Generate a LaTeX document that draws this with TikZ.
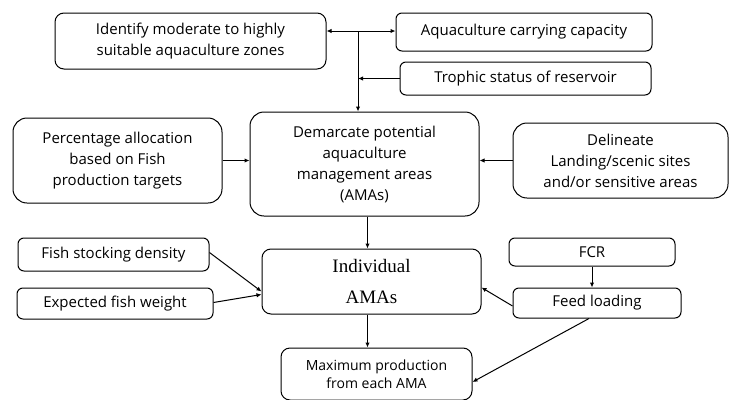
\documentclass[tikz,border=0pt]{standalone}
\usepackage{fontspec}
\setmainfont{Open Sans}
\newfontfamily\amafont{Liberation Serif}
\usetikzlibrary{arrows.meta}
\newcommand{\fs}{\fontsize{15}{21}\selectfont}

\begin{document}
\begin{tikzpicture}[x = 1pt, y = -1pt,
  box/.style = {draw, rounded corners = 9pt, line width = 1pt, align = center, inner sep = 0pt, font = \fs},
  small/.style = {box, rounded corners = 6pt},
  arr/.style = {line width = 1pt, -{Latex[length = 5pt, width = 4.5pt]}}]
\useasboundingbox (0,0) rectangle (731,399);

\node[box, minimum width = 271pt, minimum height = 56pt] (zones) at (190.5,41) {Identify moderate to highly\\suitable aquaculture zones};
\node[small, minimum width = 256pt, minimum height = 38pt] (capacity) at (524,32) {Aquaculture carrying capacity};
\node[small, minimum width = 251pt, minimum height = 33pt] (trophic) at (525.5,78.5) {Trophic status of reservoir};
\node[box, minimum width = 229pt, minimum height = 104pt, rounded corners = 14pt] (demarcate) at (364.5,164) {Demarcate potential\\aquaculture\\management areas\\(AMAs)};
\node[box, minimum width = 209pt, minimum height = 85pt, rounded corners = 14pt] (percent) at (117.5,160.5) {Percentage allocation\\based on Fish\\production targets};
\node[box, minimum width = 215pt, minimum height = 75pt, rounded corners = 14pt] (delineate) at (620.5,160.5) {Delineate\\Landing/scenic sites\\and/or sensitive areas};

\node[small, minimum width = 191pt, minimum height = 33pt] (stocking) at (113.5,254.5) {Fish stocking density};
\node[small, minimum width = 196pt, minimum height = 31pt] (weight) at (115,303.5) {Expected fish weight};
\node[box, minimum width = 219pt, minimum height = 65pt, font = \amafont\fontsize{19}{31}\selectfont] (indiv) at (371.5,281.5) {Individual\\AMAs};
\node[small, minimum width = 166pt, minimum height = 28pt] (fcr) at (592,252) {FCR};
\node[small, minimum width = 168pt, minimum height = 30pt] (feed) at (597,303) {Feed loading};
\node[box, minimum width = 191pt, minimum height = 52pt, font = \fontsize{14}{18}\selectfont] (maxprod) at (376.5,374) {Maximum production\\from each AMA};

\coordinate (hub) at (358,31);

\draw [arr] (hub) -- (hub -| zones.east);
\draw [arr] (hub) -- (hub -| capacity.west);
\draw [arr] (hub) -- (hub |- demarcate.north);
\draw [arr] (trophic.west) -- (trophic.west -| hub);
\draw [arr] (percent.east) -- (percent.east -| demarcate.west);
\draw [arr] (delineate.west) -- (delineate.west -| demarcate.east);
\draw [arr] ([xshift = 3pt]demarcate.south) -- ([xshift = 3pt]demarcate.south |- indiv.north);
\draw [arr] ([xshift = -4pt]indiv.south) -- ([xshift = -4pt]indiv.south |- maxprod.north);
\draw [arr] ([yshift = 2pt]stocking.east) -- ([yshift = -10pt]indiv.west);
\draw [arr] ([yshift = 1pt]weight.east) -- ([yshift = -13pt]indiv.west);
\draw [arr] ([yshift = -3pt]feed.west) -- ([yshift = -6pt]indiv.east);
\draw [arr] (fcr.south) -- (fcr.south |- feed.north);
\draw [arr] ([xshift = -8pt]feed.south) -- ([yshift = -8pt]maxprod.east);
\end{tikzpicture}
\end{document}
